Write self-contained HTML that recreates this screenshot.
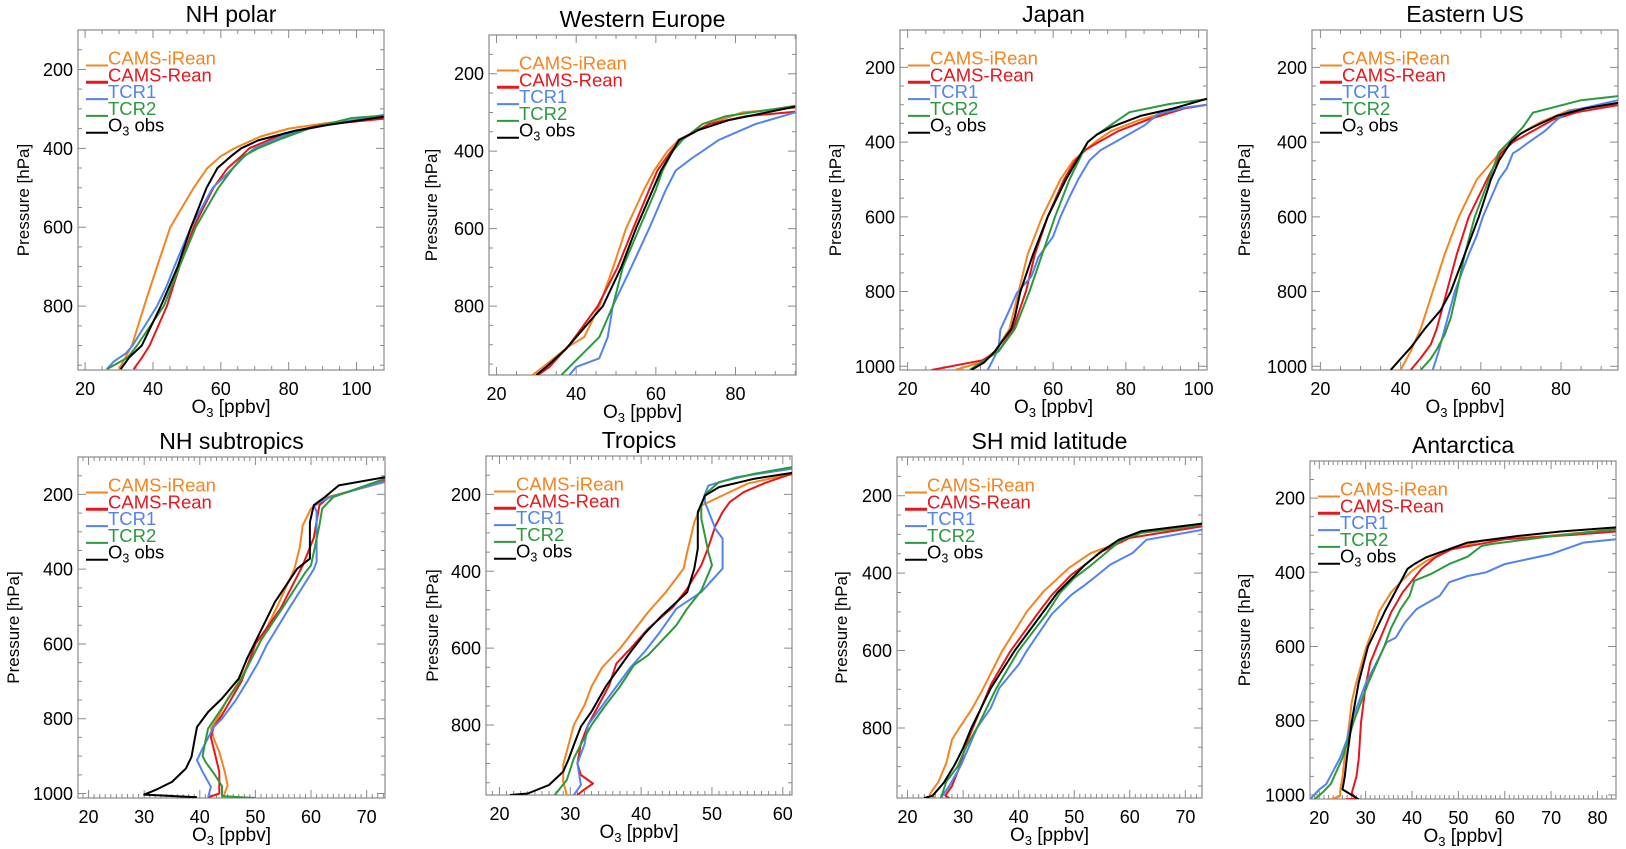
<!DOCTYPE html>
<html><head><meta charset="utf-8"><style>
html,body{margin:0;padding:0;background:#fff}
svg{display:block;font-family:"Liberation Sans",Arial,sans-serif}
</style></head><body>
<svg id="fig" width="1626" height="849" viewBox="0 0 1626 849"></svg>
<script>
// ---------- DATA: [pressure hPa, O3 ppbv] ----------
const seriesNames = ["CAMS-iRean","CAMS-Rean","TCR1","TCR2","O3 obs"];
const panelTitles = ["NH polar","Western Europe","Japan","Eastern US","NH subtropics","Tropics","SH mid latitude","Antarctica"];

const xTicksA = [20,40,60,80,100];
const xTicksB = [20,40,60,80];
const xTicksC = [20,30,40,50,60,70];
const xTicksD = [20,30,40,50,60];
const xTicksE = [20,30,40,50,60,70,80];
const yTicks800 = [200,400,600,800];
const yTicks1000 = [200,400,600,800,1000];

// NH polar
const nhp_iRean = [[960,30],[900,33.8],[800,37.4],[700,41.2],[600,45.1],[500,52],[450,56],[420,60],[400,64],[370,71.7],[350,80],[335,92],[322,108]];
const nhp_rean  = [[960,34.3],[930,36.8],[900,39],[800,44.1],[700,47.8],[600,52],[500,57.8],[450,62],[420,66],[400,68.4],[363,78.6],[340,90],[325,108]];
const nhp_tcr1  = [[960,26.4],[940,28.5],[920,32],[900,34],[800,41.2],[750,44],[700,46.3],[600,51.2],[500,57.6],[450,63.6],[420,67],[400,70],[370,78],[350,86],[330,98],[315,108]];
const nhp_tcr2  = [[960,26.4],[930,32.6],[900,35.3],[800,43.2],[700,47.8],[600,52.6],[500,59.3],[450,63.6],[420,66.6],[400,71],[375,78],[350,86],[323,98.6],[317,108]];
const nhp_obs   = [[960,30.5],[930,33],[900,36.7],[800,42.3],[700,47.3],[600,51.2],[500,55.8],[450,59],[420,63],[400,66],[380,71],[355,82],[340,92],[330,100],[320,108]];
// Western Europe
const weu_iRean = [[978,29],[957,31.7],[905,38],[880,42],[800,45.8],[700,49.3],[600,52.5],[500,57],[450,59.6],[400,62.9],[371,65.8],[330,73.3],[300,81.7],[288,95]];
const weu_rean  = [[978,30.4],[957,33.3],[900,38.3],[800,45.4],[700,50.4],[600,54.3],[500,58.3],[450,60.4],[400,63.8],[371,66.3],[330,73.3],[310,82.5],[298,95]];
const weu_tcr1  = [[978,38.3],[957,40],[935,45.8],[880,47.9],[800,49.2],[700,53.8],[600,58.3],[500,62.5],[450,65],[417,69.2],[400,71.7],[371,75.8],[330,85],[300,95]];
const weu_tcr2  = [[978,36.3],[957,38.3],[914,42.5],[880,45.8],[800,49.2],[700,51.7],[600,55.8],[500,60],[450,61.7],[400,64.2],[371,66.7],[330,71.7],[310,77.5],[283,95]];
const weu_obs   = [[978,30],[957,32.5],[910,37.5],[800,46.7],[700,51.3],[600,55],[500,59.2],[450,61.3],[400,64.2],[371,65.8],[345,70.8],[320,78.3],[285,95]];
// Japan
const jpn_iRean = [[1010,33],[990,40],[960,44],[900,48],[800,50.5],[700,53],[600,57],[500,62],[450,65.5],[400,71.5],[370,76],[340,84],[310,95],[300,102.3]];
const jpn_rean  = [[1010,26.6],[984,40.5],[960,45],[900,49],[800,52.5],[700,55],[600,58.5],[500,63],[450,66],[420,69],[400,72.5],[370,78],[340,86],[310,96],[300,102.3]];
const jpn_tcr1  = [[1010,42],[973,44],[951,45],[902,45.5],[849,48],[804,50],[760,54],[707,56],[653,60],[600,62],[547,64.5],[498,67],[449,70],[422,73],[400,77],[356,85],[324,89],[307,97],[300,102.3]];
const jpn_tcr2  = [[1010,37],[985,41],[960,45],[900,49.5],[800,53.5],[700,57],[600,60.5],[500,64.5],[450,67],[400,69.5],[380,72],[320,81],[298,92],[285,102.3]];
const jpn_obs   = [[1010,37.5],[990,41],[960,44],[900,48.5],[867,49.5],[800,51],[700,54.5],[600,58.5],[500,63.5],[450,66.5],[400,69.5],[380,72],[360,76],[330,84],[310,93],[284,102.3]];
// Eastern US
const eus_iRean = [[1010,40],[960,42.5],[900,45],[800,48],[750,49.5],[700,51],[600,54.5],[500,59],[400,67],[370,71],[346,75],[315,82],[297,94.2]];
const eus_rean  = [[1010,42.5],[978,45],[942,47.5],[900,49],[800,51.5],[700,54],[600,57],[500,61.5],[430,65],[400,68],[370,73],[340,78],[320,84],[301,94.2]];
const eus_tcr1  = [[1010,48],[960,49.5],[900,51],[800,53.5],[700,57],[650,59],[600,60.5],[550,62.5],[500,64.5],[470,66.5],[430,68],[420,69.5],[400,72],[370,76],[340,79],[319,81.5],[288,94.2]];
const eus_tcr2  = [[1010,45],[980,47.5],[955,49],[915,51],[870,52.5],[800,54],[700,56],[600,58.5],[500,62],[427,64.5],[400,67],[360,70.5],[321,73],[288,85],[277,94.2]];
const eus_obs   = [[1010,37.5],[980,40],[950,42.5],[900,46],[850,50],[800,52.5],[700,56],[600,59.5],[500,62.5],[450,64.5],[400,67.5],[377,70],[360,73],[330,79],[310,86],[295,94.2]];
// NH subtropics
const nhs_iRean = [[1010,44.2],[978,45],[942,44.5],[889,43.5],[853,42.5],[826,42],[790,43.5],[746,45],[702,47],[604,50.5],[497,54],[400,57],[340,58],[283,58.5],[238,60],[207,63],[167,73.3]];
const nhs_rean  = [[1010,41.5],[1000,43.5],[942,43.5],[880,42.5],[850,42],[822,42.5],[790,44],[700,47.5],[600,50],[506,54.5],[390,58.5],[316,60.5],[229,61.5],[210,63],[163,73.3]];
const nhs_tcr1  = [[1010,41.5],[982,42],[942,40.5],[911,39.5],[880,40.5],[822,42.5],[800,44],[750,46.5],[701,48.5],[650,50.5],[604,52],[506,56],[400,60.5],[380,61],[246,61],[229,60.5],[207,63.5],[165,73.3]];
const nhs_tcr2  = [[1012,50],[1007,44],[980,44],[950,42.7],[915,41],[900,40.5],[860,41],[826,41.5],[782,43.5],[693,47.5],[590,51],[501,55],[408,59],[390,60],[283,61.5],[238,62],[207,64],[158,73.3]];
const nhs_obs   = [[1010,39.5],[1003,30],[991,32],[969,35],[933,37.5],[902,38.5],[862,39],[822,39.5],[782,41.5],[746,44],[693,47],[639,48.5],[488,53.5],[399,57.5],[372,59.8],[274,59.8],[229,60.5],[207,62.5],[176,65],[154,73.3]];
// Tropics
const trp_iRean = [[982,29.5],[947,29],[903,29],[848,29.8],[800,30.5],[748,32],[700,33],[650,34.5],[601,37],[506,41],[454,43.5],[393,46],[350,46.5],[272,47.5],[229,48.5],[207,51],[172,55],[146,61.3]];
const trp_rean  = [[982,31],[970,31.8],[952,33.2],[930,31.5],[900,31],[848,31.5],[800,32.5],[696,35.5],[640,36.5],[601,38.5],[549,41],[493,44.5],[445,46.5],[384,48.5],[337,49.5],[281,50.5],[246,51.5],[220,52.5],[194,54.5],[170,57.5],[146,61.3]];
const trp_tcr1  = [[982,30.5],[956,31.5],[900,31],[850,32],[800,32.5],[750,34.5],[700,36.5],[650,38.5],[609,40.5],[562,42.5],[497,45],[454,48.5],[393,51.5],[315,51.5],[290,50.5],[220,49],[200,49],[177,49.5],[155,53.5],[133,61.3]];
const trp_tcr2  = [[982,27.8],[943,29.5],[887,30.5],[850,31.5],[800,33],[748,35],[700,37],[644,39],[618,41],[540,45],[497,46.5],[450,48.5],[384,50],[350,49.5],[263,48.5],[229,48.5],[200,49],[168,51],[146,56],[129,61.3]];
const trp_obs   = [[982,21.5],[978,24],[956,27],[921,29],[887,29.8],[852,30.5],[804,31.5],[765,33],[700,35],[610,38.5],[562,40.5],[514,43],[454,46.5],[393,47.5],[341,48],[246,48],[203,49],[181,51],[159,56],[144,61.3]];
// SH mid latitude
const shm_iRean = [[981,25],[972,24],[960,24.5],[941,25.5],[890,27],[830,28],[796,29.5],[753,31.5],[701,33.5],[602,37],[499,41.5],[447,44.5],[387,49],[348,53],[327,57],[296,62],[279,73]];
const shm_rean  = [[981,27.5],[975,26.8],[950,28],[895,29.5],[843,30.5],[791,32],[688,35],[602,38.5],[503,43.5],[456,46],[404,49.5],[378,52],[344,55],[309,60],[279,73]];
const shm_tcr1  = [[981,26],[950,27.5],[900,29.5],[850,31],[800,32.5],[748,35],[697,36.5],[636,40],[600,41.5],[505,46],[456,49.5],[430,52],[413,53.5],[378,56.5],[348,60.5],[314,63],[288,73]];
const shm_tcr2  = [[981,26],[938,27],[900,29],[850,30.5],[800,32.5],[697,36],[600,40],[506,45],[450,47.5],[413,50],[380,53],[344,56],[314,58.5],[296,62],[275,73]];
const shm_obs   = [[981,23],[975,24.5],[942,26.5],[895,28.5],[852,30],[800,31.5],[697,35],[600,39.3],[499,44.5],[450,47],[400,50.5],[378,52],[348,54.5],[314,58],[292,62],[272,73]];
// Antarctica
const ant_iRean = [[1012,22.5],[1003,24.5],[990,24.5],[951,25],[895,25.5],[805,26.5],[750,27],[706,27.8],[607,30],[504,33],[454,35.5],[427,37.5],[396,40],[370,43],[342,47.5],[315,55],[301,70],[284,84]];
const ant_rean  = [[1012,25.5],[1010,28],[996,27],[951,28],[904,28.5],[805,29],[706,30],[643,31],[598,32.5],[553,34],[508,35.5],[454,38],[423,40],[391,42],[360,45],[338,48.5],[311,60],[299,75],[290,84]];
const ant_tcr1  = [[1012,18],[985,20],[971,21.5],[900,24.5],[850,26],[800,27],[750,28.5],[700,30],[652,32],[589,34.5],[576,36.5],[535,38.5],[499,41],[463,46],[427,48],[410,52],[400,56],[378,60],[351,70],[320,77],[311,84]];
const ant_tcr2  = [[1012,19],[990,21],[970,22.5],[900,25],[800,27.5],[700,30.5],[600,34],[550,35.5],[500,37.5],[463,39.5],[423,40.5],[405,44],[378,48],[358,52],[329,55],[324,57],[303,70],[284,84]];
const ant_obs   = [[1012,28.5],[985,25],[950,25.5],[895,26],[787,27.2],[697,28.5],[600,30.5],[504,34.2],[450,36.5],[391,39],[378,40.5],[360,43],[351,45],[320,52],[302,63],[290,72],[279,84]];

const panelData = [
  [nhp_iRean,nhp_rean,nhp_tcr1,nhp_tcr2,nhp_obs],
  [weu_iRean,weu_rean,weu_tcr1,weu_tcr2,weu_obs],
  [jpn_iRean,jpn_rean,jpn_tcr1,jpn_tcr2,jpn_obs],
  [eus_iRean,eus_rean,eus_tcr1,eus_tcr2,eus_obs],
  [nhs_iRean,nhs_rean,nhs_tcr1,nhs_tcr2,nhs_obs],
  [trp_iRean,trp_rean,trp_tcr1,trp_tcr2,trp_obs],
  [shm_iRean,shm_rean,shm_tcr1,shm_tcr2,shm_obs],
  [ant_iRean,ant_rean,ant_tcr1,ant_tcr2,ant_obs]
];
const panelXTicks = [xTicksA,xTicksB,xTicksA,xTicksB,xTicksC,xTicksD,xTicksC,xTicksE];
const panelYTicks = [yTicks800,yTicks800,yTicks1000,yTicks1000,yTicks1000,yTicks800,yTicks800,yTicks1000];
const panelXDomain = [[17.9,108.1],[18.1,95.2],[17.9,102.3],[17.9,94.2],[18.1,73.3],[18.1,61.3],[18.1,73],[18,84]];
const panelPDomain = [[100,962],[100,978],[100,1010],[100,1010],[100,1012],[100,982],[100,981],[100,1011]];

// ---------- LAYOUT (pixels) ----------
const frames = [
  {L:78,R:384,T:30,B:370,off:55,minor:5},
  {L:489,R:796,T:35,B:375,off:58,minor:5},
  {L:900,R:1207,T:30,B:370,off:65,minor:5},
  {L:1312,R:1618,T:30,B:370,off:68,minor:5},
  {L:78,R:385,T:457,B:798,off:65,minor:1},
  {L:486,R:792,T:456,B:795,off:54,minor:1},
  {L:897,R:1202,T:457,B:798,off:56,minor:1},
  {L:1310,R:1616,T:461,B:799,off:66,minor:1}
];
const colors = ["#f5841f","#e8161c","#5283ee","#2b9a3c","#000000"];
const NS = "http://www.w3.org/2000/svg";
const svg = document.getElementById("fig");
function mk(tag, attrs, parent){
  const e = document.createElementNS(NS, tag);
  for (const k in attrs) e.setAttribute(k, attrs[k]);
  (parent||svg).appendChild(e);
  return e;
}
const defs = mk("defs",{});

frames.forEach((f, i) => {
  const [xmin,xmax] = panelXDomain[i];
  const [pmin,pmax] = panelPDomain[i];
  const xs = v => f.L + (v - xmin)/(xmax - xmin)*(f.R - f.L);
  const ys = p => f.T + (p - pmin)/(pmax - pmin)*(f.B - f.T);
  const g = mk("g",{});
  
  

  const cp = mk("clipPath",{id:"clip"+i}, defs);
  mk("rect",{x:f.L,y:f.T,width:f.R-f.L,height:f.B-f.T}, cp);

  // title
  const t = mk("text",{x:(f.L+f.R)/2,y:f.T-8,"text-anchor":"middle","font-size":"23"}, g);
  t.textContent = panelTitles[i];
  
  

  // frame
  const fr = mk("rect",{x:f.L,y:f.T,width:f.R-f.L,height:f.B-f.T,fill:"none",stroke:"#8a8a8a","stroke-width":"1.2"}, g);
  
  

  let tp = "";
  for (let v = Math.ceil(xmin/f.minor)*f.minor; v <= xmax; v += f.minor){
    const X = xs(v);
    const major = panelXTicks[i].includes(v);
    const len = major ? 8 : 4;
    tp += `M${X},${f.B}v${-len}M${X},${f.T}v${len}`;
  }
  for (let p = 150; p <= pmax; p += 50){
    const Y = ys(p);
    const major = p % 200 === 0;
    const len = major ? 8 : 4;
    tp += `M${f.L},${Y}h${len}M${f.R},${Y}h${-len}`;
  }
  const ticks = mk("path",{d:tp,stroke:"#8a8a8a","stroke-width":"1",fill:"none"}, g);
  
  

  panelXTicks[i].forEach(v => {
    const l = mk("text",{x:xs(v),y:f.B+25,"text-anchor":"middle","font-size":"18"}, g);
    l.textContent = v;
    
    
  });
  panelYTicks[i].forEach(p => {
    const l = mk("text",{x:f.L-5,y:ys(p)+6.5,"text-anchor":"end","font-size":"18"}, g);
    l.textContent = p;
    
    
  });

  const yc = (f.T+f.B)/2, xc = f.L - f.off;
  const yt = mk("text",{x:xc,y:yc+6,"text-anchor":"middle","font-size":"17",transform:`rotate(-90 ${xc} ${yc})`}, g);
  yt.textContent = "Pressure [hPa]";
  
  
  const xt = mk("text",{x:(f.L+f.R)/2,y:f.B+43,"text-anchor":"middle","font-size":"19"}, g);
  xt.innerHTML = 'O<tspan font-size="13" dy="4">3</tspan><tspan dy="-4"> [ppbv]</tspan>';
  
  

  const sg = mk("g",{"clip-path":`url(#clip${i})`}, g);
  panelData[i].forEach((s, k) => {
    const d = s.map((pt, j) => (j ? "L" : "M") + xs(pt[1]).toFixed(1) + "," + ys(pt[0]).toFixed(1)).join("");
    const path = mk("path",{d:d,fill:"none",stroke:colors[k],"stroke-width":"2","stroke-linejoin":"round"}, sg);
    
    
  });

  seriesNames.forEach((n, k) => {
    const ly = f.T + 35.5 + k*16.8;
    const ln = mk("line",{x1:f.L+8,y1:ly,x2:f.L+30,y2:ly,stroke:colors[k],"stroke-width":k===1?"3":"2"}, g);
    
    
    const tx = mk("text",{x:f.L+30,y:ly-1,"font-size":"18.5",fill:colors[k]}, g);
    if (k === 4) tx.innerHTML = 'O<tspan font-size="12.5" dy="4">3</tspan><tspan dy="-4"> obs</tspan>';
    else tx.textContent = n;
    
    
  });
});
</script>
</body></html>
